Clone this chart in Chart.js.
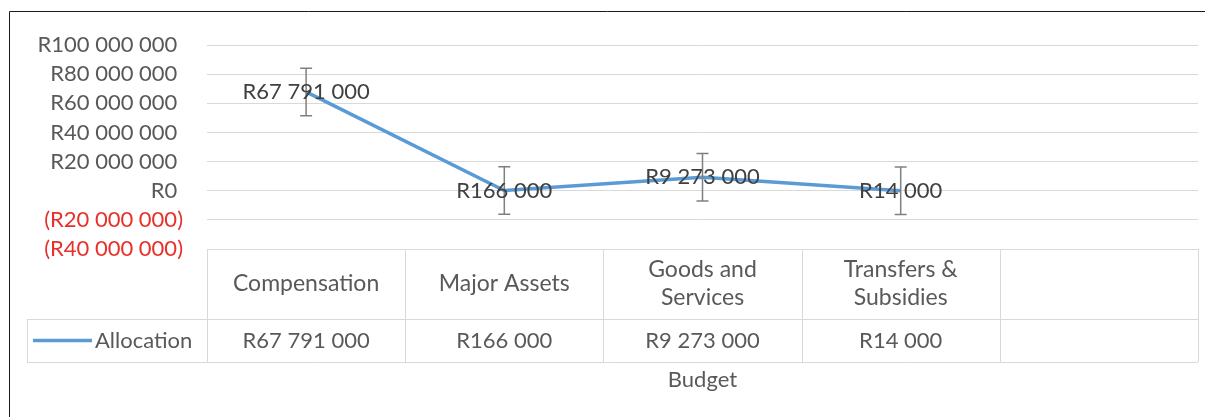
<!DOCTYPE html>
<html>
<head>
<meta charset="utf-8">
<script src="https://cdn.jsdelivr.net/npm/chart.js@4.4.0/dist/chart.umd.min.js"></script>
<style>
html,body{margin:0;padding:0;background:#fff;}
#wrap{position:relative;width:1205px;height:417px;}
</style>
</head>
<body>
<div id="wrap"><canvas id="c" width="1205" height="417"></canvas></div>
<script>
// ---- data ----
const categories = ['Compensation', 'Major Assets', ['Goods and', 'Services'], ['Transfers &', 'Subsidies'], ''];
const seriesName = 'Allocation';
const allocation = [67791000, 166000, 9273000, 14000, null];
const errorAmount = [16300000, 16300000, 16300000, 16300000, null];
const yMin = -40000000;
const yMax = 100000000;
const yStep = 20000000;
const axisTitle = 'Budget';

// ---- helpers ----
const FONT = 'Lato, "Open Sans", sans-serif';
const TEXT = '#595959';
const GRID = '#D9D9D9';
function group(v) {
  return Math.abs(Math.round(v)).toString().replace(/\B(?=(\d{3})+(?!\d))/g, ' ');
}
function fmtPlain(v) { return v < 0 ? '(R' + group(v) + ')' : 'R' + group(v); }
function fmtTick(v) { return v < 0 ? '(R' + group(v) + ')' : 'R' + group(v) + ' '; }

const tablePlugin = {
  id: 'tablePlugin',
  beforeDraw(chart) {
    const ctx = chart.ctx;
    ctx.save();
    ctx.strokeStyle = '#1a1a1a';
    ctx.lineWidth = 1;
    ctx.beginPath();
    ctx.moveTo(9.5, 417); ctx.lineTo(9.5, 11.5); ctx.lineTo(1205, 11.5);
    ctx.stroke();
    ctx.restore();
  },
  afterDraw(chart) {
    const ctx = chart.ctx;
    const x = chart.scales.x, x2 = chart.scales.x2;
    const n = categories.length;
    const colW = (x.right - x.left) / n;
    const top = chart.chartArea.bottom;
    const mid = x.bottom;
    const bot = x2.top + 43;
    const legL = 27;
    ctx.save();
    ctx.strokeStyle = GRID;
    ctx.lineWidth = 1;
    ctx.beginPath();
    for (let k = 0; k <= n; k++) {
      const px = Math.round(x.left + k * colW) + 0.5;
      ctx.moveTo(px, top); ctx.lineTo(px, bot);
    }
    ctx.moveTo(legL + 0.5, mid); ctx.lineTo(legL + 0.5, bot);
    ctx.moveTo(x.left, Math.round(top) + 0.5); ctx.lineTo(x.right, Math.round(top) + 0.5);
    ctx.moveTo(legL, Math.round(mid) + 0.5); ctx.lineTo(x.right, Math.round(mid) + 0.5);
    ctx.moveTo(legL, Math.round(bot) + 0.5); ctx.lineTo(x.right, Math.round(bot) + 0.5);
    ctx.stroke();
    // legend key in the table
    const cy = (mid + bot) / 2;
    ctx.strokeStyle = chart.data.datasets[0].borderColor;
    ctx.lineWidth = 3.5;
    ctx.beginPath();
    ctx.moveTo(33, cy); ctx.lineTo(92, cy);
    ctx.stroke();
    ctx.fillStyle = TEXT;
    ctx.font = '22px ' + FONT;
    ctx.textAlign = 'left';
    ctx.textBaseline = 'middle';
    ctx.fillText(seriesName, 95, cy);
    ctx.restore();
  },
  afterDatasetsDraw(chart) {
    const ctx = chart.ctx;
    const y = chart.scales.y;
    const meta = chart.getDatasetMeta(0);
    ctx.save();
    // error bars
    ctx.strokeStyle = '#808080';
    ctx.lineWidth = 1.5;
    meta.data.forEach((pt, i) => {
      const v = allocation[i];
      if (v == null) return;
      const e = errorAmount[i];
      const yt = y.getPixelForValue(v + e), yb = y.getPixelForValue(v - e);
      ctx.beginPath();
      ctx.moveTo(pt.x, yt); ctx.lineTo(pt.x, yb);
      ctx.moveTo(pt.x - 6, yt); ctx.lineTo(pt.x + 6, yt);
      ctx.moveTo(pt.x - 6, yb); ctx.lineTo(pt.x + 6, yb);
      ctx.stroke();
    });
    // data labels
    ctx.fillStyle = '#404040';
    ctx.font = '22px ' + FONT;
    ctx.textAlign = 'center';
    ctx.textBaseline = 'middle';
    meta.data.forEach((pt, i) => {
      const v = allocation[i];
      if (v == null) return;
      ctx.fillText(fmtPlain(v), pt.x, pt.y);
    });
    ctx.restore();
  }
};

new Chart(document.getElementById('c'), {
  type: 'line',
  data: {
    labels: categories,
    datasets: [{
      label: seriesName,
      data: allocation,
      borderColor: '#5B9BD5',
      backgroundColor: '#5B9BD5',
      borderWidth: 3.5,
      pointRadius: 0,
      tension: 0,
      xAxisID: 'x',
      yAxisID: 'y'
    }]
  },
  options: {
    responsive: false,
    animation: false,
    layout: { padding: { top: 45, right: 7, left: 0, bottom: 0 } },
    plugins: { legend: { display: false }, tooltip: { enabled: false } },
    scales: {
      y: {
        min: yMin, max: yMax,
        ticks: {
          stepSize: yStep,
          autoSkip: false,
          callback: v => fmtTick(v),
          color: c => (c.tick && c.tick.value < 0 ? '#E8302A' : TEXT),
          font: { family: FONT, size: 22 },
          padding: 24
        },
        grid: { color: GRID, drawTicks: false, lineWidth: 1 },
        border: { display: false },
        afterFit: s => { s.width = 207; }
      },
      x: {
        type: 'category',
        position: 'bottom',
        offset: true,
        weight: 0,
        grid: { display: false, drawTicks: false },
        border: { display: false },
        ticks: {
          autoSkip: false, maxRotation: 0, minRotation: 0,
          crossAlign: 'center', padding: 21,
          color: TEXT,
          font: { family: FONT, size: 23, lineHeight: 1.22 }
        },
        afterFit: s => { s.height = 70; }
      },
      x2: {
        type: 'category',
        position: 'bottom',
        offset: true,
        weight: 1,
        grid: { display: false, drawTicks: false },
        border: { display: false },
        ticks: {
          autoSkip: false, maxRotation: 0, minRotation: 0,
          crossAlign: 'center', padding: 22,
          color: TEXT,
          font: { family: FONT, size: 22 },
          callback: (v, i) => (allocation[i] == null ? '' : fmtPlain(allocation[i]))
        },
        title: {
          display: true, text: axisTitle, color: TEXT,
          font: { family: FONT, size: 22 },
          padding: { top: 0, bottom: 24 }
        },
        afterFit: s => { s.height = 98; }
      }
    }
  },
  plugins: [tablePlugin]
});
</script>
</body>
</html>
